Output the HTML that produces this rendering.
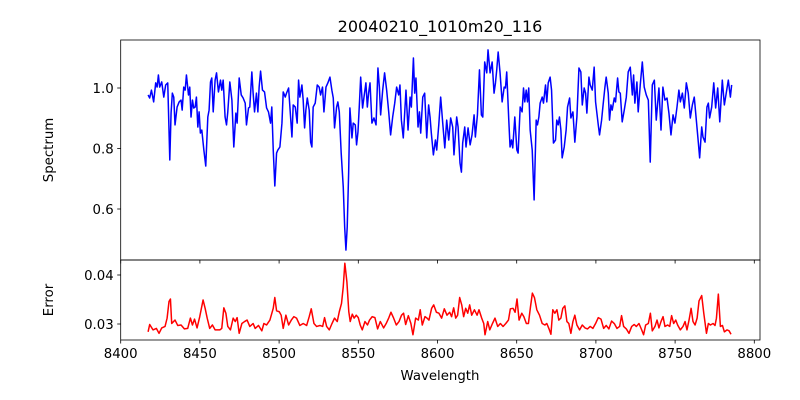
<!DOCTYPE html>
<html><head><meta charset="utf-8"><style>
body{margin:0;background:#fff;}
svg{display:block;font-family:"DejaVu Sans","Liberation Sans",sans-serif;}
</style></head><body>
<svg id="chart" width="800" height="400" viewBox="0 0 800 400" xmlns="http://www.w3.org/2000/svg">
<rect width="800" height="400" fill="#fff"/>
<text x="440" y="32" font-size="16" text-anchor="middle">20040210_1010m20_116</text>
<text transform="translate(53,150) rotate(-90)" font-size="13.3" text-anchor="middle">Spectrum</text>
<text transform="translate(53,300) rotate(-90)" font-size="13.3" text-anchor="middle">Error</text>
<text x="440" y="380" font-size="13.3" text-anchor="middle">Wavelength</text>
<g id="top"></g>
<g id="bot"></g>
</svg>
<script>
const specWave=[8417.3,8418.3,8419.4,8420.8,8422.1,8423.0,8423.8,8424.6,8425.9,8427.2,8428.4,8429.7,8431.0,8431.8,8432.6,8433.5,8434.3,8435.6,8436.9,8438.1,8438.8,8439.8,8440.7,8441.5,8442.8,8443.6,8444.4,8445.3,8446.1,8447.0,8447.8,8448.7,8449.5,8450.3,8451.2,8452.5,8453.7,8455.0,8455.8,8456.7,8457.5,8458.4,8459.6,8460.5,8461.7,8463.0,8463.8,8464.7,8465.9,8466.8,8467.6,8468.9,8470.2,8471.4,8472.7,8473.5,8474.8,8476.1,8477.3,8478.6,8479.4,8480.7,8481.5,8482.8,8483.6,8484.5,8485.7,8486.6,8487.4,8488.3,8489.5,8490.8,8492.1,8493.3,8494.6,8495.4,8496.3,8497.3,8498.4,8499.2,8500.5,8501.8,8502.6,8503.9,8504.7,8506.0,
8508.1,8508.9,8510.2,8511.4,8512.3,8513.1,8514.4,8515.2,8516.1,8516.9,8517.8,8519.0,8519.9,8520.7,8521.5,8522.8,8524.1,8525.3,8526.2,8527.4,8528.3,8529.6,8530.8,8532.1,8533.3,8534.2,8535.0,8536.3,8537.1,8538.0,8539.2,8540.5,8541.4,8542.2,8543.0,8543.9,8544.7,8546.0,8546.8,8548.1,8548.9,8549.8,8550.6,8551.5,8552.7,8553.6,8554.8,8555.7,8556.5,8557.4,8558.6,8559.9,8561.2,8562.4,8563.3,8564.1,8565.4,8566.6,8567.9,8569.2,8570.4,8571.7,8573.0,8574.2,8575.5,8576.3,8577.2,8578.4,8580.1,8581.4,8582.7,8583.5,8584.8,8585.6,8586.4,8587.7,8588.6,8589.4,8590.7,8591.9,8593.2,8594.4,8595.3,8596.1,8597.4,8598.7,8599.5,8600.8,8602.0,8603.3,8604.6,8605.8,8607.1,
8608.3,8609.6,8610.4,8612.1,8613.0,8614.2,8615.1,8615.9,8617.2,8618.0,8619.3,8620.6,8621.8,8623.1,8623.9,8625.2,8626.5,8627.7,8628.6,8629.8,8631.1,8631.9,8633.2,8634.5,8635.7,8636.6,8637.4,8638.3,8639.5,8640.8,8642.1,8642.9,8643.7,8645.0,8645.8,8646.7,8647.5,8648.8,8650.1,8650.9,8652.2,8653.4,8654.3,8655.1,8656.0,8656.8,8657.6,8658.5,8659.8,8661.0,8662.3,8663.1,8664.0,8664.8,8666.1,8666.9,8668.2,8669.0,8669.9,8671.1,8672.0,8673.2,8674.5,8675.3,8676.2,8677.0,8677.9,8678.7,8680.0,8681.2,8682.1,8683.4,8684.2,8685.5,8686.7,8688.0,8689.3,8690.5,8691.4,8692.6,8693.5,8694.3,8695.6,8696.4,8697.7,8698.9,8699.8,
8701.5,8702.3,8703.6,8704.4,8705.7,8706.5,8707.8,8708.6,8709.5,8710.3,8711.6,8712.4,8713.7,8714.5,8715.4,8716.6,8717.9,8719.2,8720.4,8721.7,8723.0,8723.8,8724.6,8725.9,8726.7,8728.0,8729.3,8730.5,8731.8,8733.1,8734.3,8735.6,8736.9,8738.1,8739.8,8741.1,8742.3,8743.6,8744.9,8746.1,8747.4,8748.7,8749.9,8751.2,8752.4,8753.3,8754.6,8755.8,8757.1,8758.3,8759.6,8760.9,8762.1,8763.4,8764.7,8765.5,8766.8,8767.6,8768.9,8770.1,8771.0,8771.8,8773.1,8774.4,8775.6,8776.9,8778.2,8779.8,8781.1,8782.4,8783.6,8784.9,8785.7];
const specFlux=[0.977,0.967,0.993,0.954,1.017,1.003,1.043,1.003,1.020,0.970,1.010,1.017,0.762,0.917,0.983,0.970,0.878,0.937,0.954,0.960,0.927,1.003,0.993,1.043,0.977,1.003,0.904,0.960,0.934,0.937,0.970,0.871,0.921,0.851,0.861,0.795,0.742,0.904,0.927,1.020,1.033,0.921,1.026,1.050,0.987,1.026,0.993,1.026,0.904,0.878,0.921,1.020,0.960,0.805,0.917,0.884,1.033,0.977,0.967,0.950,0.878,0.934,0.937,1.053,0.983,0.921,0.983,0.921,1.003,1.056,0.993,0.987,0.934,0.921,0.884,0.937,0.795,0.676,0.785,0.795,0.805,0.884,0.987,0.970,0.983,1.000,
0.838,0.944,0.937,0.884,1.026,0.970,1.010,0.960,0.868,0.927,0.967,0.927,0.821,0.805,0.937,0.950,1.010,1.003,0.977,1.003,0.921,1.003,1.017,1.036,0.993,0.967,0.868,0.937,0.954,0.921,0.785,0.673,0.540,0.464,0.540,0.719,0.934,0.835,0.884,0.878,0.812,0.855,0.937,1.036,0.934,0.970,1.017,0.937,0.983,1.017,0.884,0.901,0.878,1.066,1.003,0.911,0.993,1.050,0.993,0.921,0.845,0.904,0.950,1.003,0.977,1.010,0.894,0.835,0.993,0.861,0.970,0.937,1.099,0.983,1.033,0.871,0.921,0.851,0.970,0.983,0.835,0.944,0.904,0.851,0.779,0.828,0.795,0.878,0.970,0.884,0.802,0.894,0.828,
0.901,0.871,0.779,0.904,0.871,0.752,0.722,0.818,0.871,0.805,0.868,0.812,0.845,0.911,0.838,0.911,1.060,0.911,0.904,1.086,1.050,1.126,1.050,1.086,0.983,1.017,1.060,1.119,1.050,0.954,1.003,1.000,1.053,0.894,0.805,0.828,0.802,0.904,0.795,0.785,0.937,0.921,1.000,0.954,0.993,0.954,1.000,0.861,0.795,0.630,0.894,0.878,0.904,0.950,0.970,0.950,1.010,0.954,1.017,1.036,0.993,0.818,0.828,0.894,0.878,0.904,0.861,0.769,0.805,0.861,0.937,0.967,0.901,0.921,0.821,0.904,1.066,1.053,0.944,1.000,0.983,0.917,1.036,1.010,0.993,1.069,0.954,
0.878,0.845,0.894,0.937,1.003,1.036,0.983,0.894,0.944,0.927,0.967,0.954,1.033,0.987,0.983,0.888,0.927,0.970,1.053,1.069,0.977,1.043,0.950,1.020,0.921,1.010,1.086,1.003,0.977,0.960,0.755,1.010,1.026,0.894,1.000,0.861,1.003,0.960,0.967,0.917,0.845,0.911,0.884,0.937,0.993,0.954,0.983,0.934,1.017,0.983,0.901,0.944,0.970,0.894,0.818,0.769,0.871,0.838,0.821,0.937,0.950,0.901,0.937,1.017,0.934,1.000,0.888,1.026,0.944,0.987,1.026,0.970,1.010];
const errWave=[8417.3,8418.3,8420.4,8422.5,8424.2,8425.9,8428.0,8429.3,8430.5,8431.4,8432.2,8434.3,8436.0,8438.1,8440.2,8442.3,8444.0,8445.3,8446.6,8448.2,8449.9,8452.0,8453.3,8454.6,8456.2,8457.9,8459.6,8462.6,8463.8,8465.1,8466.4,8467.6,8469.3,8471.0,8472.3,8473.5,8474.8,8476.5,8478.2,8479.8,8481.5,8483.6,8484.9,8487.0,8489.1,8490.4,8492.1,8494.2,8496.3,8497.3,8498.4,8500.1,8501.3,8502.6,8504.3,8506.0,8507.7,8509.3,8511.0,8513.1,8515.2,8517.4,8519.0,8520.3,8522.0,8523.7,8525.8,8527.5,8528.7,8530.0,8531.7,8533.4,8535.0,8536.7,8538.0,
8539.4,8540.5,8541.5,8542.8,8544.0,8544.9,8546.2,8547.4,8548.7,8550.0,8551.2,8552.5,8554.2,8555.8,8557.1,8558.8,8560.5,8562.2,8563.9,8566.0,8567.6,8569.3,8570.6,8572.3,8574.0,8575.7,8577.3,8578.6,8579.9,8581.6,8583.2,8584.5,8586.2,8587.9,8589.1,8590.4,8592.1,8593.4,8594.6,8596.3,8597.6,8599.3,8600.9,8602.6,8604.3,8606.0,8607.7,8608.9,8610.2,8611.5,8612.7,8614.0,8615.3,8616.5,8617.8,8619.1,8620.3,8621.6,8623.3,8625.0,8626.2,8627.9,8629.2,8630.0,8631.7,8633.0,8634.7,8636.3,8638.0,8639.7,8641.4,8643.1,8644.8,8646.0,8647.7,8649.0,8650.2,8651.5,8653.2,8654.5,8656.1,8657.4,8658.7,8659.9,8661.2,
8662.7,8664.4,8666.1,8667.8,8669.0,8670.3,8671.6,8672.8,8674.1,8675.4,8676.6,8677.9,8679.1,8680.4,8681.7,8682.9,8684.2,8685.5,8686.7,8688.0,8689.7,8691.4,8693.1,8694.7,8696.4,8698.1,8699.8,8701.5,8703.2,8704.9,8706.5,8708.2,8709.9,8711.6,8713.3,8715.0,8716.2,8717.5,8719.2,8720.9,8722.6,8724.2,8725.5,8727.2,8728.9,8730.1,8731.4,8733.1,8734.4,8735.6,8737.3,8738.6,8739.8,8741.1,8742.4,8743.6,8745.3,8746.6,8747.8,8749.1,8750.4,8751.6,8753.3,8755.0,8756.3,8757.5,8758.8,8760.1,8761.3,8762.6,8763.9,8765.1,8766.8,8768.1,8769.8,8771.0,8772.3,8774.0,8775.2,8776.1,8777.3,8778.6,8779.9,8781.1,8782.8,8784.1,8785.3];
const errVal=[0.0284,0.0299,0.0288,0.0291,0.0281,0.0292,0.0295,0.0312,0.0346,0.0351,0.0301,0.0308,0.0297,0.0298,0.0290,0.0291,0.0312,0.0298,0.0310,0.0292,0.0315,0.0349,0.0332,0.0312,0.0291,0.0298,0.0288,0.0288,0.0291,0.0333,0.0322,0.0295,0.0288,0.0312,0.0305,0.0313,0.0281,0.0301,0.0305,0.0308,0.0295,0.0301,0.0291,0.0297,0.0286,0.0301,0.0298,0.0308,0.0332,0.0354,0.0327,0.0325,0.0318,0.0291,0.0318,0.0298,0.0308,0.0315,0.0312,0.0297,0.0301,0.0297,0.0315,0.0331,0.0301,0.0295,0.0297,0.0295,0.0313,0.0295,0.0288,0.0301,0.0312,0.0305,0.0325,
0.0342,0.0376,0.0424,0.0386,0.0325,0.0305,0.0320,0.0312,0.0318,0.0313,0.0298,0.0288,0.0305,0.0298,0.0308,0.0315,0.0313,0.0290,0.0305,0.0292,0.0301,0.0313,0.0324,0.0312,0.0298,0.0305,0.0318,0.0322,0.0299,0.0317,0.0301,0.0278,0.0312,0.0308,0.0329,0.0298,0.0315,0.0312,0.0308,0.0332,0.0339,0.0324,0.0322,0.0312,0.0331,0.0318,0.0324,0.0315,0.0333,0.0312,0.0318,0.0354,0.0339,0.0315,0.0332,0.0322,0.0339,0.0318,0.0329,0.0318,0.0329,0.0312,0.0301,0.0278,0.0305,0.0288,0.0301,0.0312,0.0295,0.0301,0.0295,0.0301,0.0308,0.0331,0.0332,0.0324,0.0351,0.0308,0.0322,0.0315,0.0301,0.0301,0.0335,0.0363,0.0354,
0.0329,0.0318,0.0301,0.0298,0.0301,0.0291,0.0279,0.0329,0.0322,0.0329,0.0308,0.0312,0.0332,0.0337,0.0305,0.0301,0.0281,0.0305,0.0318,0.0298,0.0288,0.0298,0.0292,0.0290,0.0295,0.0291,0.0301,0.0313,0.0310,0.0291,0.0297,0.0290,0.0306,0.0301,0.0291,0.0295,0.0317,0.0295,0.0290,0.0281,0.0295,0.0299,0.0295,0.0301,0.0288,0.0278,0.0298,0.0301,0.0322,0.0286,0.0295,0.0308,0.0292,0.0305,0.0315,0.0295,0.0298,0.0295,0.0317,0.0301,0.0308,0.0298,0.0288,0.0295,0.0305,0.0288,0.0308,0.0332,0.0305,0.0298,0.0312,0.0347,0.0358,0.0322,0.0281,0.0301,0.0298,0.0301,0.0297,0.0312,0.0361,0.0295,0.0297,0.0284,0.0288,0.0286,0.0279];
const xTicks=[8400,8450,8500,8550,8600,8650,8700,8750,8800];
const specTicks=[0.6,0.8,1.0];
const specTickLabels=["0.6","0.8","1.0"];
const errTicks=[0.03,0.04];
const errTickLabels=["0.03","0.04"];

const NS="http://www.w3.org/2000/svg";
const L=120.7,R=760;
const xMin=8400,xMax=8803.6;
const sx=v=>L+(v-xMin)/(xMax-xMin)*(R-L);
const topY={t:40,b:260,min:0.4314,max:1.1587};
const botY={t:260,b:340,min:0.026735,max:0.04306};
const mk=(y)=>v=>y.b-(v-y.min)/(y.max-y.min)*(y.b-y.t);
const syT=mk(topY),syB=mk(botY);
function el(tag,attrs,parent){const e=document.createElementNS(NS,tag);for(const k in attrs)e.setAttribute(k,attrs[k]);parent.appendChild(e);return e;}
function panel(g,ys,sy,wave,vals,color,ticks,labels,name,showX){
  const p=wave.map((w,i)=>sx(w).toFixed(2)+","+sy(vals[i]).toFixed(2)).join(" ");
  const line=el("polyline",{points:p,fill:"none",stroke:color,"stroke-width":1.5,"stroke-linejoin":"round"},g);
  
  
  ticks.forEach((t,i)=>{
    const y=sy(t);
    const tk=el("line",{x1:L-3.5,x2:L,y1:y,y2:y,stroke:"#000","stroke-width":0.8},g);
    
    
    const tx=el("text",{x:L-7,y:y+4.8,"font-size":13.3,"text-anchor":"end"},g);
    tx.textContent=labels[i];
    
    
  });
  xTicks.forEach(t=>{
    const x=sx(t);
    const tk=el("line",{x1:x,x2:x,y1:ys.b,y2:ys.b+3.5,stroke:"#000","stroke-width":0.8},g);
    
    
    if(showX){
      const tx=el("text",{x:x,y:ys.b+18,"font-size":13.3,"text-anchor":"middle"},g);
      tx.textContent=String(t);
      
      
    }
  });
  const fr=el("rect",{x:L,y:ys.t,width:R-L,height:ys.b-ys.t,fill:"none",stroke:"#000","stroke-width":0.8},g);
  
  
}
panel(document.getElementById("top"),topY,syT,specWave,specFlux,"#0000ff",specTicks,specTickLabels,"spectrum",false);
panel(document.getElementById("bot"),botY,syB,errWave,errVal,"#ff0000",errTicks,errTickLabels,"error",true);
</script>
</body></html>
